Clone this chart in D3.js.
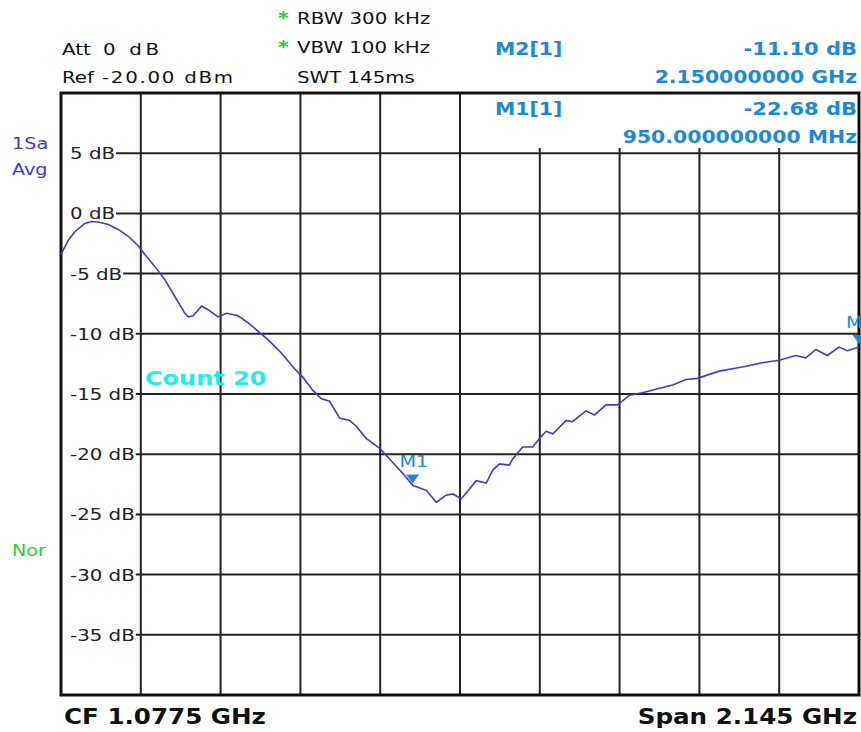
<!DOCTYPE html>
<html>
<head>
<meta charset="utf-8">
<script src="https://cdn.jsdelivr.net/npm/d3@7"></script>
<style>
  body { margin: 0; background: #fff; }
  text { font-family: "DejaVu Sans", Verdana, sans-serif; }
</style>
</head>
<body>
<div id="chart"></div>
<script>
// trace (MHz, dB)
var freqMHz = [5, 25, 43, 69, 87, 105, 132, 159, 186, 213, 230, 257, 284, 311, 338, 347, 360, 383, 400, 427,
  450, 481, 508, 535, 562, 597, 633, 655, 682, 705, 727, 754, 781, 799, 826, 861, 888, 924, 951, 987,
  1014, 1040, 1058, 1081, 1103, 1121, 1148, 1166, 1184, 1210, 1219, 1246, 1273, 1291, 1309, 1327, 1363, 1380, 1416, 1439,
  1470, 1501, 1533, 1568, 1604, 1649, 1685, 1716, 1774, 1810, 1846, 1890, 1935, 1980, 2007, 2034, 2065, 2096, 2119, 2150];
var levelDb = [-3.4, -2.2, -1.5, -0.83, -0.67, -0.72, -0.92, -1.33, -1.9, -2.7, -3.4, -4.4, -5.5, -6.9, -8.3, -8.6, -8.5, -7.7, -8.0, -8.6,
  -8.3, -8.5, -9.1, -9.8, -10.5, -11.6, -12.9, -13.6, -14.7, -15.4, -15.6, -17.0, -17.2, -17.7, -18.7, -19.5, -20.4, -21.6, -22.6, -23.0,
  -24.0, -23.4, -23.3, -23.7, -22.9, -22.2, -22.4, -21.3, -20.8, -20.9, -20.4, -19.4, -19.4, -18.7, -18.1, -18.3, -17.2, -17.3, -16.4, -16.75,
  -15.9, -15.9, -15.1, -14.9, -14.6, -14.25, -13.8, -13.7, -13.1, -12.9, -12.7, -12.4, -12.2, -11.8, -12.0, -11.3, -11.8, -11.1, -11.4, -11.1];

var yTicks = [5, 0, -5, -10, -15, -20, -25, -30, -35];
var yTickLabels = ["5 dB", "0 dB", "-5 dB", "-10 dB", "-15 dB", "-20 dB", "-25 dB", "-30 dB", "-35 dB"];

var markerNames = ["M1", "M2"];
var markerFreq = [950, 2150];
var markerLevel = [-22.68, -11.10];

var startMHz = 5, stopMHz = 2150;
var refTop = 10, refBottom = -40;

var width = 861, height = 732;
var sx = 1.2; // screenshot is stretched horizontally

var svg = d3.select("#chart").append("svg")
  .attr("width", width)
  .attr("height", height);

var x = d3.scaleLinear().domain([startMHz, stopMHz]).range([61, 859]);
var y = d3.scaleLinear().domain([refBottom, refTop]).range([695, 93]);

function label(px, py, str, size, weight, fill, anchor, len) {
  var t = svg.append("text")
    .attr("transform", "translate(" + px + "," + py + ") scale(" + sx + ",1)")
    .attr("font-size", size)
    .attr("font-weight", weight || "normal")
    .attr("fill", fill || "#111")
    .attr("text-anchor", anchor || "start")
    .text(str);
  if (len) t.attr("textLength", len / sx).attr("lengthAdjust", "spacing");
  return t;
}

// vertical grid (10 divisions)
var xGrid = d3.range(11).map(function (i) { return startMHz + i * (stopMHz - startMHz) / 10; });
svg.append("g").selectAll("line")
  .data(xGrid)
  .join("line")
  .attr("x1", function (d) { return x(d); })
  .attr("x2", function (d) { return x(d); })
  .attr("y1", y(refTop))
  .attr("y2", y(refBottom))
  .attr("stroke", "#222")
  .attr("stroke-width", 2);

// marker info box hides the grid in the top right
svg.append("rect")
  .attr("x", x(xGrid[5]) + 2).attr("y", y(refTop))
  .attr("width", 859 - x(xGrid[5]) - 2).attr("height", 55)
  .attr("fill", "#fff");

// y labels inside the plot, horizontal grid starts after each label
var labelX = 70;
yTicks.forEach(function (t, i) {
  var tx = label(labelX, y(t) + 6, yTickLabels[i], 16.5, "normal", "#222");
  var w = tx.node().getComputedTextLength() * sx;
  svg.insert("line", "text")
    .attr("x1", labelX + w + 1)
    .attr("x2", 859)
    .attr("y1", y(t))
    .attr("y2", y(t))
    .attr("stroke", "#222")
    .attr("stroke-width", 2);
});

// frame
svg.append("rect")
  .attr("x", 61).attr("y", y(refTop))
  .attr("width", 859 - 61).attr("height", y(refBottom) - y(refTop))
  .attr("fill", "none")
  .attr("stroke", "#111")
  .attr("stroke-width", 3);

// trace
var points = freqMHz.map(function (f, i) { return [f, levelDb[i]]; });
var line = d3.line()
  .x(function (d) { return x(d[0]); })
  .y(function (d) { return y(d[1]); });

svg.append("path")
  .datum(points)
  .attr("d", line)
  .attr("fill", "none")
  .attr("stroke", "#3a3ae0")
  .attr("stroke-width", 1.6);

// markers
var markerColor = "#1c8ad6";
markerNames.forEach(function (m, i) {
  var mx = x(markerFreq[i]), my = y(markerLevel[i]) - 3;
  svg.append("path")
    .attr("d", "M" + (mx - 6.5) + "," + (my - 9) + "L" + (mx + 6.5) + "," + (my - 9) + "L" + mx + "," + my + "Z")
    .attr("fill", markerColor);
  label(mx - 13, my - 16, m, 16, "normal", markerColor);
});

label(145, 385, "Count 20", 20, "bold", "#22eef0");

// header
label(62, 55, "Att", 16.5);
label(103, 55, "0 dB", 16.5, "normal", "#111", "start", 56);
label(62, 83, "Ref", 16.5);
label(102, 83, "-20.00 dBm", 16.5, "normal", "#111", "start", 131);
label(278, 24, "*", 17, "bold", "#22cc33");
label(278, 53, "*", 17, "bold", "#22cc33");
label(297, 24, "RBW 300 kHz", 16.5);
label(297, 53, "VBW 100 kHz", 16.5);
label(297, 83, "SWT 145ms", 16.5);

label(495, 55, "M2[1]", 17, "bold", markerColor);
label(857, 55, markerLevel[1].toFixed(2) + " dB", 17.5, "bold", markerColor, "end");
label(857, 83, (markerFreq[1] / 1000).toFixed(9) + " GHz", 17, "bold", markerColor, "end");
label(495, 115, "M1[1]", 17, "bold", markerColor);
label(857, 115, markerLevel[0].toFixed(2) + " dB", 17.5, "bold", markerColor, "end");
label(857, 143, markerFreq[0].toFixed(9) + " MHz", 17, "bold", markerColor, "end");

// left side indicators
label(12, 149, "1Sa", 16, "normal", "#3a3ae0");
label(12, 175, "Avg", 16, "normal", "#3a3ae0");
label(12, 556, "Nor", 16, "normal", "#33cc33");

// footer
label(64, 724, "CF " + ((startMHz + stopMHz) / 2000) + " GHz", 20.5, "bold", "#111");
label(857, 724, "Span " + ((stopMHz - startMHz) / 1000) + " GHz", 20.5, "bold", "#111", "end");
</script>
</body>
</html>
